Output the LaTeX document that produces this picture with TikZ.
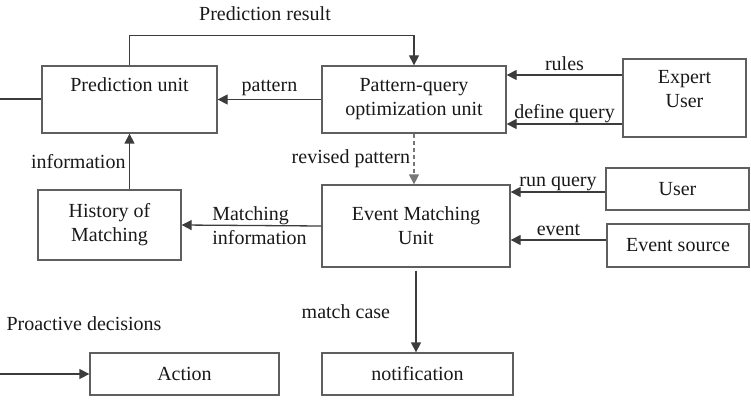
\documentclass[tikz,border=0pt]{standalone}
\usepackage{fontspec}
\setmainfont{Liberation Serif}
\usetikzlibrary{arrows.meta,positioning}
\definecolor{ink}{RGB}{25,25,25}
\definecolor{frame}{RGB}{95,95,95}
\definecolor{wire}{RGB}{60,60,60}

\begin{document}
\begin{tikzpicture}[x=1pt,y=-1pt,font=\fontsize{20}{24}\selectfont,text=ink,
 >={Triangle[width=10pt,length=10pt]},
 unit/.style={draw=frame,line width=1.3pt,inner sep=2pt,align=center},
 flow/.style={->,draw=wire,line width=1.3pt}]
 \useasboundingbox (0,0) rectangle (751,406);
 % units
 \node[unit,minimum width=175pt,minimum height=67pt,
  label={[anchor=north,yshift=-9pt]north:Prediction unit}] (pred) at (129.5,99.5) {};
 \node[unit,minimum width=184pt,minimum height=67pt] (pq) at (414,99.5) {Pattern-query\\optimization unit};
 \node[unit,minimum width=123pt,minimum height=78pt,
  label={[anchor=north,yshift=-9pt,align=center]north:Expert\\User}] (expert) at (684.5,98) {};
 \node[unit,minimum width=188pt,minimum height=82pt] (match) at (416,226) {Event Matching\\Unit};
 \node[unit,minimum width=143pt,minimum height=42pt] (user) at (677.5,189) {User};
 \node[unit,minimum width=142pt,minimum height=43pt] (source) at (678,245.5) {Event source};
 \node[unit,minimum width=143pt,minimum height=70pt] (hist) at (109.5,225) {History of\\Matching};
 \node[unit,minimum width=191pt,minimum height=42pt] (notif) at (417.5,374) {notification};
 \node[unit,minimum width=189pt,minimum height=42pt] (action) at (184.5,374) {Action};
 % feedback to the optimizer
 \coordinate (in0) at (0,99);
 \draw[draw=wire,line width=1.3pt] (in0) -- (in0 -| pred.west);
 \draw[flow] (pred.north) -- ++(0,-30) -| (pq.north);
 \node (res) at (265,14) {Prediction result};
 \draw[flow] (pq.west) -- (pred.east) node[midway,above]{pattern};
 % expert input
 \coordinate (r0) at ([yshift=23pt]expert.west);
 \coordinate (d0) at ([yshift=-26pt]expert.west);
 \draw[flow] (r0) -- (r0 -| pq.east) node[midway,above]{rules};
 \draw[flow] (d0) -- (d0 -| pq.east) node[midway,above,inner sep=1pt]{define query};
 \draw[flow,draw=frame!85,dash pattern=on 4pt off 3pt] (pq.south) -- (pq.south |- match.north)
  node[midway,left]{revised pattern};
 % matching input
 \coordinate (q0) at ([yshift=-3pt]user.west);
 \coordinate (e0) at ([yshift=5.5pt]source.west);
 \draw[flow] (q0) -- (q0 -| match.east) node[midway,above,inner sep=1pt]{run query};
 \draw[flow] (e0) -- (e0 -| match.east) node[midway,above]{event};
 % history
 \draw[flow] (match.west) -- (hist.east) node[midway,xshift=8pt,align=left]{Matching\\information};
 \draw[flow] (hist.north -| pred.south) -- (pred.south) node[midway,left]{information};
 % outputs
 \draw[flow] ([yshift=-3pt]match.south) -- (match.south |- notif.north) node[midway,left=22pt]{match case};
 \coordinate (pd0) at (0,374);
 \draw[flow] (pd0) -- (pd0 -| action.west);
 \node[anchor=west] (pro) at (3,324) {Proactive decisions};
\end{tikzpicture}
\end{document}
